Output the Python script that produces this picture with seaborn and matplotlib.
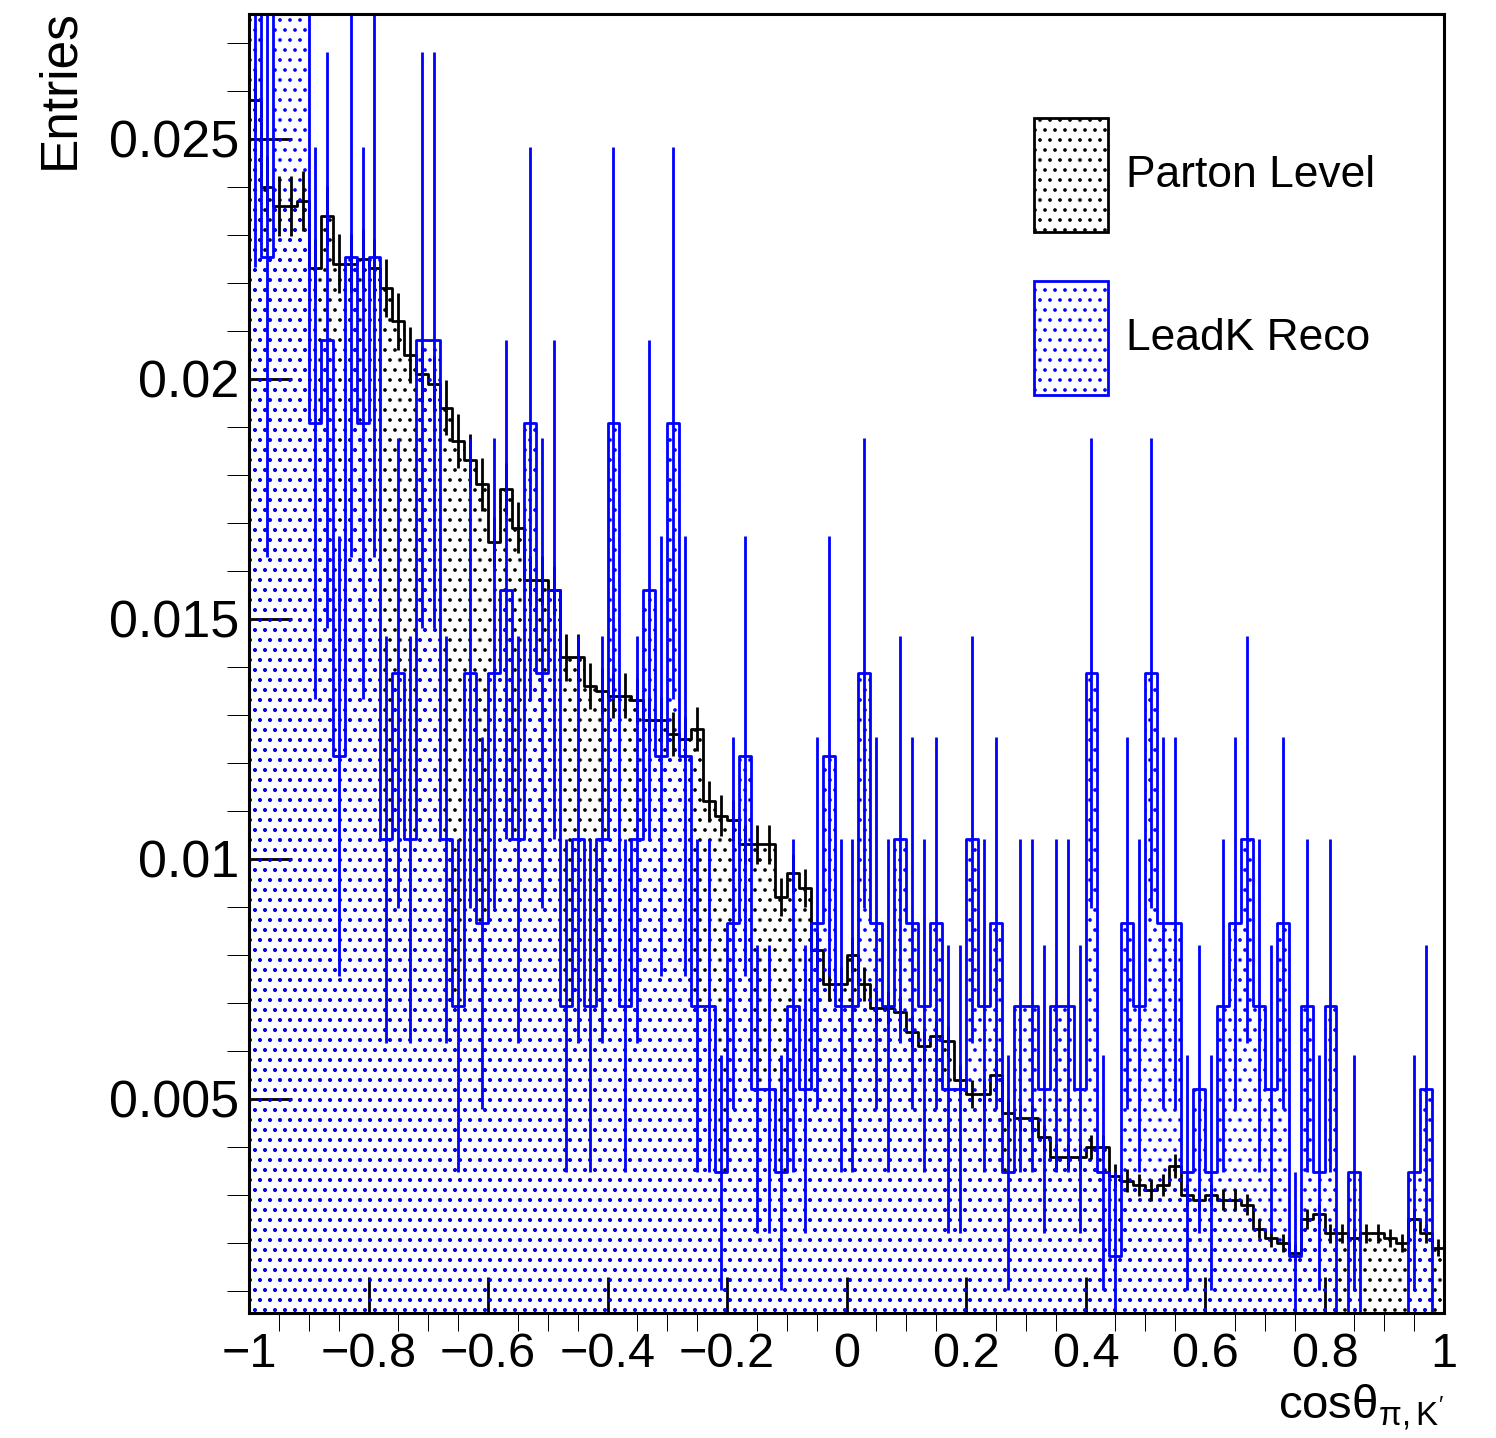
import matplotlib
matplotlib.use("Agg")
import matplotlib.pyplot as plt
from matplotlib.patches import Patch
from matplotlib.ticker import MultipleLocator, FuncFormatter
import numpy as np
import pandas as pd
import seaborn as sns


# cos(theta) histogram: 100 bins on [-1, 1]
X_LO, X_HI, N_BINS = -1.0, 1.0, 100

# Parton level, normalised content per bin (units of 1e-3)
parton_frac = [
    25.8, 24.0, 23.6, 23.6, 23.7, 22.3, 23.4, 22.4, 22.4, 22.5,
    22.3, 21.9, 21.2, 20.5, 20.1, 19.9, 19.4, 18.7, 18.3, 17.8,
    16.6, 17.7, 16.9, 15.8, 15.8, 15.6, 14.2, 14.2, 13.6, 13.5,
    13.4, 13.4, 13.3, 12.9, 12.9, 12.6, 12.5, 12.7, 11.2, 10.9,
    10.8, 10.3, 10.3, 10.3, 9.2, 9.7, 9.4, 8.1, 7.4, 7.4,
    8.0, 7.4, 6.9, 6.9, 6.8, 6.4, 6.1, 6.3, 6.2, 5.4,
    5.1, 5.1, 5.5, 4.7, 4.6, 4.6, 4.2, 3.8, 3.8, 3.8,
    4.0, 4.0, 3.4, 3.3, 3.2, 3.1, 3.2, 3.6, 3.0, 2.9,
    3.0, 2.9, 2.9, 2.8, 2.3, 2.1, 2.0, 1.8, 2.5, 2.6,
    2.2, 2.2, 2.1, 2.2, 2.2, 2.1, 2.0, 2.5, 2.2, 1.9,
]
PARTON_ENTRIES = 60000

# LeadK Reco, raw counts per bin; every entry is scaled by RECO_WEIGHT
reco_counts = [
    17, 13, 22, 22, 21, 11, 12, 7, 13, 11,
    13, 6, 8, 6, 12, 12, 6, 4, 8, 5,
    8, 9, 6, 11, 8, 9, 4, 6, 4, 6,
    11, 4, 6, 9, 7, 11, 7, 4, 4, 2,
    5, 7, 3, 3, 2, 4, 3, 5, 7, 4,
    4, 8, 5, 4, 6, 5, 4, 5, 3, 3,
    6, 4, 5, 2, 4, 4, 3, 4, 4, 3,
    8, 2, 1, 5, 4, 8, 5, 5, 2, 3,
    2, 4, 5, 6, 4, 3, 5, 1, 4, 2,
    4, 0, 2, 0, 0, 0, 0, 2, 3, 0,
]
RECO_WEIGHT = 0.001734

LEGEND_LABELS = ["Parton Level", "LeadK Reco"]
X_TITLE = r"cos$\theta_{\pi,K'}$"
Y_TITLE = "Entries"

DPI = 120
S = 100 / DPI  # sizes below were tuned in points at 100 dpi


def set_style() -> None:
    sns.set_style("ticks")
    plt.rcParams.update({
        "font.family": ["Liberation Sans", "DejaVu Sans"],
        "mathtext.fontset": "custom",
        "mathtext.rm": "Liberation Sans",
        "mathtext.it": "Liberation Sans:italic",
        "mathtext.default": "regular",
        "axes.unicode_minus": True,
        "hatch.linewidth": 1.0,
        "text.color": "black",
        "axes.labelcolor": "black",
        "axes.edgecolor": "black",
        "xtick.color": "black",
        "ytick.color": "black",
    })


def build_frames():
    width = (X_HI - X_LO) / N_BINS
    centers = X_LO + width * (np.arange(N_BINS) + 0.5)
    parton = pd.DataFrame({"cos": centers, "y": np.array(parton_frac) * 1e-3})
    parton["err"] = np.sqrt(parton["y"] / PARTON_ENTRIES)
    counts = np.array(reco_counts, dtype=float)
    reco = pd.DataFrame({"cos": centers, "y": counts * RECO_WEIGHT,
                         "err": np.sqrt(counts) * RECO_WEIGHT})
    return parton, reco


def draw_hist(ax, df, color):
    sns.histplot(data=df, x="cos", weights="y", bins=N_BINS, binrange=(X_LO, X_HI),
                 element="step", fill=True, color=color, facecolor="none",
                 edgecolor=color, hatch="..", linewidth=2.0 * S, ax=ax)
    nz = df[df["y"] > 0]
    ax.errorbar(nz["cos"], nz["y"], yerr=nz["err"], fmt="none",
                ecolor=color, elinewidth=2.0 * S, capsize=0)


def build_figure():
    parton, reco = build_frames()
    fig = plt.figure(figsize=(1496 / DPI, 1438 / DPI), dpi=DPI)
    ax = fig.add_axes([249 / 1496, 1 - 1313 / 1438, 1195 / 1496, 1299 / 1438])

    draw_hist(ax, parton, "black")
    draw_hist(ax, reco, "#0000ff")

    ax.set_xlim(X_LO, X_HI)
    ax.set_ylim(0.00054, 0.0276)

    ax.xaxis.set_major_locator(MultipleLocator(0.2))
    ax.xaxis.set_minor_locator(MultipleLocator(0.05))
    ax.yaxis.set_major_locator(MultipleLocator(0.005))
    ax.yaxis.set_minor_locator(MultipleLocator(0.001))
    ax.xaxis.set_major_formatter(FuncFormatter(
        lambda v, p: f"{round(v, 3) + 0:g}".replace("-", "\u2212")))
    ax.yaxis.set_major_formatter(FuncFormatter(lambda v, p: f"{round(v, 4):g}"))

    ax.tick_params(direction="in", top=False, right=False, width=2.0 * S, colors="black")
    ax.tick_params(axis="x", which="major", length=26 * S, pad=14 * S, labelsize=35 * S)
    ax.tick_params(axis="x", which="minor", length=13 * S)
    ax.tick_params(axis="y", which="major", length=31 * S, pad=7 * S, labelsize=37.5 * S)
    ax.tick_params(axis="y", which="minor", length=16 * S)
    for sp in ax.spines.values():
        sp.set_linewidth(2.2 * S)
        sp.set_color("black")
        sp.set_visible(True)

    ax.set_xlabel(X_TITLE, loc="right", fontsize=34 * S, labelpad=4 * S)
    ax.set_ylabel(Y_TITLE, loc="top", fontsize=37 * S, labelpad=18 * S)
    ax.yaxis.label.set_y(1.004)

    handles = [Patch(facecolor="none", edgecolor="black", hatch="..", linewidth=2.0 * S),
               Patch(facecolor="none", edgecolor="#0000ff", hatch="..", linewidth=2.0 * S)]
    ax.legend(handles, LEGEND_LABELS, loc="upper left", bbox_to_anchor=(0.657, 0.92),
              frameon=False, borderpad=0, borderaxespad=0, handlelength=1.66,
              handleheight=3.57, labelspacing=1.1, handletextpad=0.4, fontsize=32 * S,
              labelcolor="black")
    return fig


def main() -> None:
    set_style()
    fig = build_figure()
    fig.savefig("out.png", dpi=DPI, facecolor="white")


if __name__ == "__main__":
    main()
